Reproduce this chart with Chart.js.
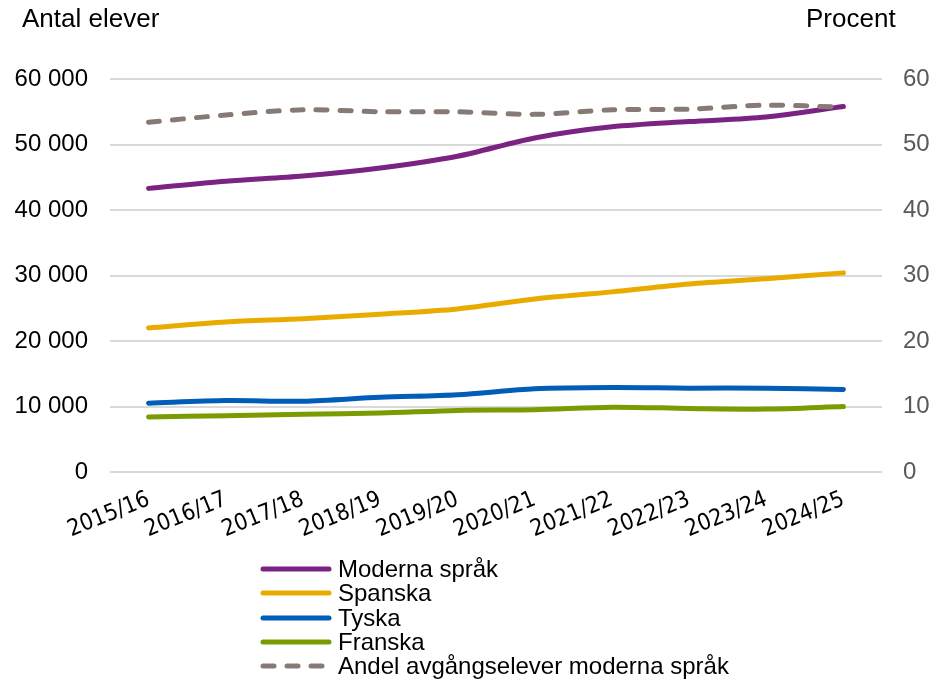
<!DOCTYPE html>
<html lang="sv">
<head>
<meta charset="utf-8">
<script src="https://cdn.jsdelivr.net/npm/chart.js@4/dist/chart.umd.min.js"></script>
<style>
    body { margin: 0; background: #fff; font-family: "Liberation Sans", Arial, sans-serif; }
    #wrap { position: relative; width: 946px; height: 680px; }
    .axis-title { position: absolute; top: 3px; font-size: 26px; color: #000; }
    #legend { position: absolute; left: 259px; top: 557px; font-size: 24px; color: #000; }
    .item { display: flex; align-items: center; height: 24.3px; }
    .item svg { margin-right: 5px; }
</style>
</head>
<body>
<div id="wrap">
    <canvas id="chart" width="946" height="680"></canvas>
    <div class="axis-title" style="left:22px;">Antal elever</div>
    <div class="axis-title" style="left:806px;">Procent</div>
    <div id="legend"></div>
</div>
<script>
// Läsår
const years = ['2015/16', '2016/17', '2017/18', '2018/19', '2019/20',
               '2020/21', '2021/22', '2022/23', '2023/24', '2024/25'];

// Antal elever
const moderna = [43300, 44400, 45200, 46400, 48200, 51000, 52700, 53500, 54200, 55800];
const spanska = [22000, 22900, 23400, 24100, 24900, 26400, 27500, 28700, 29500, 30400];
const tyska   = [10500, 10900, 10800, 11400, 11800, 12700, 12900, 12800, 12800, 12600];
const franska = [8400, 8600, 8800, 9000, 9400, 9500, 9900, 9700, 9600, 10000];

// Procent
const andel = [53.4, 54.5, 55.3, 55.0, 55.0, 54.6, 55.3, 55.4, 56.0, 55.7];

const COLORS = {
    purple: '#7b2382',
    yellow: '#eaab00',
    blue: '#005eb8',
    green: '#7a9c00',
    gray: '#877a74',
};

function lineSet(label, data, color, axis, dashed) {
    return {
        label: label,
        data: data,
        yAxisID: axis,
        borderColor: color,
        backgroundColor: color,
        borderWidth: 5,
        borderCapStyle: 'round',
        borderDash: dashed ? [11, 13] : [],
        pointRadius: 0,
        tension: 0.3,
        order: dashed ? 0 : 1,
    };
}

const datasets = [
    lineSet('Moderna språk', moderna, COLORS.purple, 'y', false),
    lineSet('Spanska', spanska, COLORS.yellow, 'y', false),
    lineSet('Tyska', tyska, COLORS.blue, 'y', false),
    lineSet('Franska', franska, COLORS.green, 'y', false),
    lineSet('Andel avgångselever moderna språk', andel, COLORS.gray, 'y1', true),
];

const font = { family: '"Liberation Sans", Arial, sans-serif', size: 24 };
const narrowFont = { family: '"Liberation Sans Narrow", "DejaVu Sans Condensed", Arial, sans-serif', size: 23 };

new Chart(document.getElementById('chart'), {
    type: 'line',
    data: { labels: years, datasets: datasets },
    options: {
        responsive: false,
        animation: false,
        layout: { padding: { top: 79, left: 0, right: 0, bottom: 0 } },
        plugins: { legend: { display: false }, tooltip: { enabled: false } },
        scales: {
            x: {
                offset: true,
                grid: { display: false },
                border: { display: false },
                ticks: {
                    color: '#000', font: narrowFont, autoSkip: false,
                    minRotation: 22, maxRotation: 22, padding: 6,
                },
                afterFit: function(scale) { scale.height = 208; },
            },
            y: {
                position: 'left',
                min: 0, max: 60000,
                border: { display: false },
                grid: { color: '#d9d9d9', lineWidth: 2, drawTicks: false },
                ticks: {
                    stepSize: 10000,
                    color: '#000',
                    font: font,
                    padding: 22,
                    callback: function(v) { return String(v).replace(/\B(?=(\d{3})+(?!\d))/g, ' '); },
                },
                afterFit: function(scale) { scale.width = 110; },
            },
            y1: {
                position: 'right',
                min: 0, max: 60,
                border: { display: false },
                grid: { drawOnChartArea: false, drawTicks: false },
                ticks: { stepSize: 10, color: '#595959', font: font, padding: 21 },
                afterFit: function(scale) { scale.width = 64; },
            },
        },
    },
});

// Förklaring (legend) under diagrammet
const legend = document.getElementById('legend');
datasets.forEach(function(ds) {
    const dashed = ds.borderDash.length > 0;
    const row = document.createElement('div');
    row.className = 'item';
    row.innerHTML =
        '<svg width="74" height="10"><line x1="4" y1="5" x2="70" y2="5" stroke="' + ds.borderColor +
        '" stroke-width="5" stroke-linecap="round"' + (dashed ? ' stroke-dasharray="11 13"' : '') +
        '/></svg><span>' + ds.label + '</span>';
    legend.appendChild(row);
});
</script>
</body>
</html>
